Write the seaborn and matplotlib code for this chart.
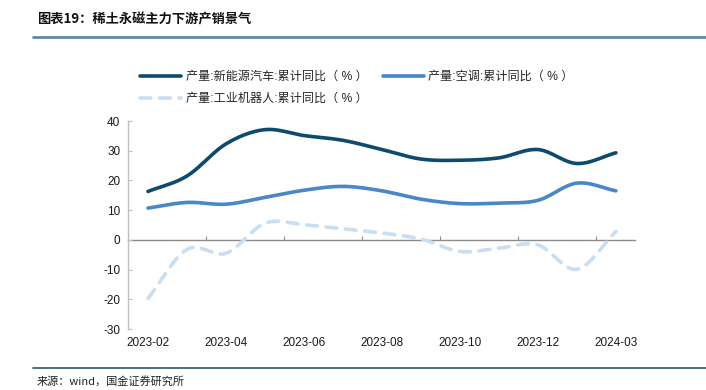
import numpy as np
import pandas as pd
import matplotlib
matplotlib.use("Agg")
import matplotlib.pyplot as plt
import seaborn as sns

months = ["2023-02", "2023-03", "2023-04", "2023-05", "2023-06", "2023-07", "2023-08",
          "2023-09", "2023-10", "2023-11", "2023-12", "2024-02", "2024-03"]
nev = [16.3, 21.5, 32.3, 37.1, 35.1, 33.5, 30.4, 27.2, 26.8, 27.6, 30.4, 25.7, 29.3]
aircon = [10.7, 12.6, 12.0, 14.3, 16.7, 18.0, 16.5, 13.7, 12.2, 12.4, 13.3, 19.1, 16.5]
robot = [-19.7, -3.2, -4.5, 5.6, 5.1, 3.7, 2.3, 0.3, -3.9, -2.8, -1.7, -9.9, 2.8]

names = ["产量:新能源汽车:累计同比（ % ）", "产量:空调:累计同比（ % ）", "产量:工业机器人:累计同比（ % ）"]
colors = ["#0d4a6e", "#4a87c6", "#c9def1"]

sns.set_theme(style="white")
plt.rcParams["font.family"] = ["Liberation Sans", "Noto Sans CJK SC"]
plt.rcParams["axes.unicode_minus"] = False


def smooth(y, n=20):
    # catmull-rom curve through the points, like the excel "smoothed line"
    y = np.asarray(y, dtype=float)
    p = np.concatenate([[2 * y[0] - y[1]], y, [2 * y[-1] - y[-2]]])
    xs, ys = [], []
    for i in range(len(y) - 1):
        t = np.linspace(0, 1, n, endpoint=False)
        p0, p1, p2, p3 = p[i], p[i + 1], p[i + 2], p[i + 3]
        v = 0.5 * (2 * p1 + (-p0 + p2) * t + (2 * p0 - 5 * p1 + 4 * p2 - p3) * t ** 2
                   + (-p0 + 3 * p1 - 3 * p2 + p3) * t ** 3)
        xs.append(i + t)
        ys.append(v)
    xs.append([len(y) - 1])
    ys.append([y[-1]])
    return np.concatenate(xs), np.concatenate(ys)


fig = plt.figure(figsize=(7.06, 3.9), dpi=100)
ax = fig.add_axes([0.182, 0.1564, 0.718, 0.5333])

for vals, name, c in zip([nev, aircon, robot], names, colors):
    sx, sy = smooth(vals)
    df = pd.DataFrame({"x": sx, "y": sy})
    sns.lineplot(data=df, x="x", y="y", ax=ax, color=c, lw=2.6, sort=False,
                 label=name, legend=False)
line_robot = ax.lines[2]
line_robot.set_dashes([3.0, 2.4])
line_robot.set_dash_capstyle("round")
for ln in ax.lines[:2]:
    ln.set_solid_capstyle("round")

ax.set_xlim(-0.5, len(months) - 0.5)
ax.set_ylim(-30, 40)
ax.set_yticks(range(-30, 41, 10))
ax.set_xticks(range(0, len(months), 2))
ax.set_xticklabels(months[::2])
ax.set_xlabel("")
ax.set_ylabel("")
ax.tick_params(axis="x", length=0, pad=6, labelsize=8.5, colors="#1a1a1a")
ax.tick_params(axis="y", direction="in", length=3, width=0.8, color="#bfbfbf",
               pad=6, labelsize=8.5, labelcolor="#1a1a1a", left=True)
for s in ["top", "right", "bottom"]:
    ax.spines[s].set_visible(False)
ax.spines["left"].set_color("#bfbfbf")
ax.spines["left"].set_linewidth(1.0)

# zero line with the category boundary ticks
sec = ax.secondary_xaxis(30 / 70)
sec.set_xticks(np.arange(1.5, len(months) - 1, 2))
sec.tick_params(direction="in", length=3, width=0.8, color="#8c8c8c", labelbottom=False)
sec.spines["bottom"].set_color("#8c8c8c")
sec.spines["bottom"].set_linewidth(1.0)

order = [ax.lines[0], ax.lines[2], ax.lines[1]]
fig.legend(order, [names[0], names[2], names[1]], ncol=2, loc="upper left",
           bbox_to_anchor=(0.198, 0.818), frameon=False, fontsize=8.7,
           handlelength=3.4, handletextpad=0.4, columnspacing=1.25,
           labelspacing=0.85, borderaxespad=0, borderpad=0)

fig.text(0.052, 0.951, "图表19：稀土永磁主力下游产销景气", fontsize=9.5,
         fontweight="bold", style="italic", va="center", ha="left",
         family=["Noto Sans CJK SC", "DejaVu Sans"], color="#111111")
fig.add_artist(plt.Line2D([0.047, 1.0], [0.906, 0.906], color="#5f8aa3", lw=2.0))
fig.add_artist(plt.Line2D([0.047, 1.0], [0.056, 0.056], color="#2c5675", lw=1.2))
fig.text(0.052, 0.023, "来源：wind，国金证券研究所", fontsize=8, va="center", ha="left",
         family=["Noto Sans CJK SC", "DejaVu Sans"], color="#222222")

fig.savefig("out.png", dpi=100)
